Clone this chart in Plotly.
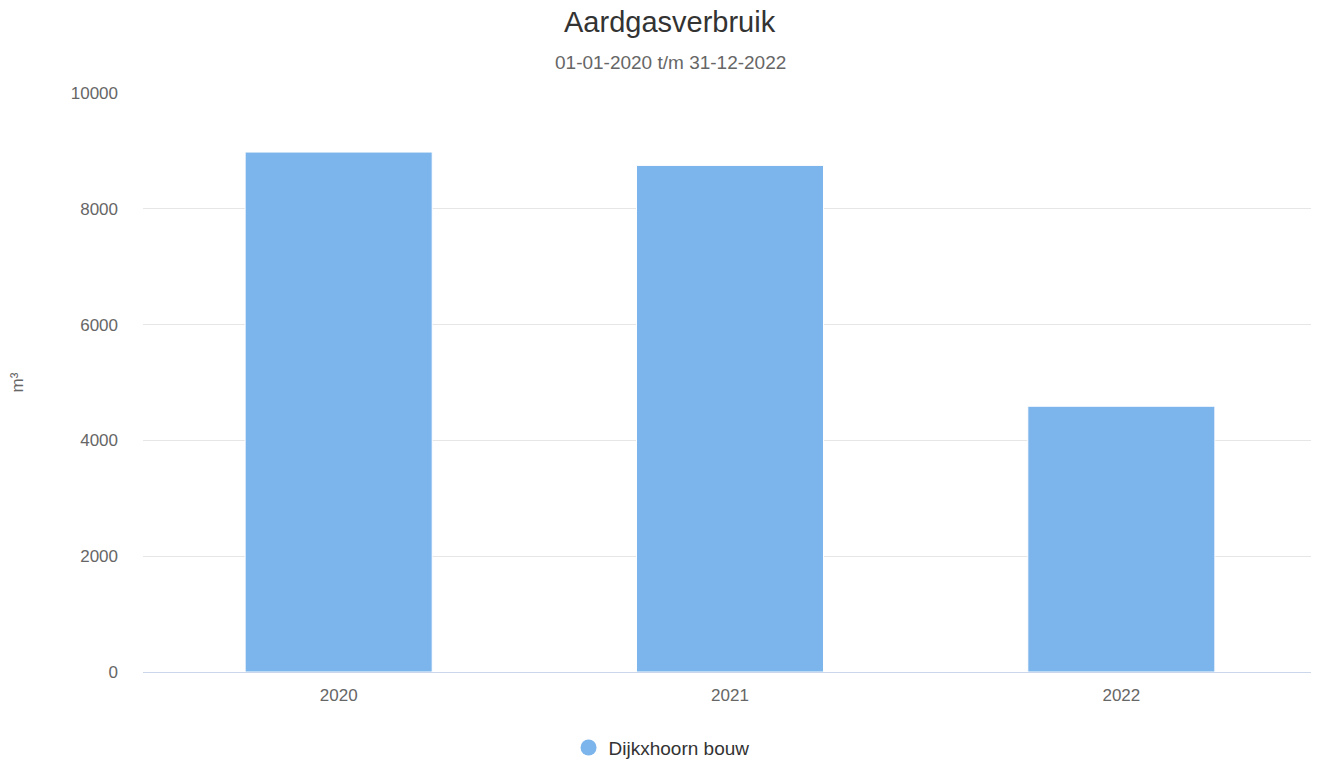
import plotly.graph_objects as go

categories = ["2020", "2021", "2022"]
values = [8980, 8750, 4590]
series_name = "Dijkxhoorn bouw"
y_ticks = [0, 2000, 4000, 6000, 8000, 10000]
title_text = "Aardgasverbruik"
subtitle_text = "01-01-2020 t/m 31-12-2022"
y_title = "m³"

BAR_COLOR = "#7cb5ec"
FONT = "Liberation Sans, Arial, Helvetica, sans-serif"

fig = go.Figure()
fig.add_trace(go.Bar(
    x=categories, y=values, name=series_name,
    marker=dict(color=BAR_COLOR, line=dict(color="#ffffff", width=1)),
    showlegend=False,
))
# legend entry with circle symbol
fig.add_trace(go.Scatter(
    x=[None], y=[None], mode="markers", name=series_name,
    marker=dict(color=BAR_COLOR, size=16, symbol="circle"),
    showlegend=True,
))

fig.update_layout(
    width=1311, height=753,
    margin=dict(l=135, r=2, t=85, b=89, autoexpand=False),
    paper_bgcolor="#ffffff", plot_bgcolor="#ffffff",
    font=dict(family=FONT, color="#666666", size=17),
    bargap=0.522,
    showlegend=True,
    legend=dict(
        orientation="h", x=0.4417, xanchor="center", y=-0.1307, yanchor="middle",
        font=dict(size=19, color="#333333", family=FONT),
        bgcolor="rgba(0,0,0,0)",
    ),
    xaxis=dict(
        type="category", showgrid=False, showline=True, linecolor="#ccd6eb", linewidth=1,
        ticks="", ticklabelstandoff=8, tickfont=dict(size=17, color="#666666"),
        fixedrange=True,
    ),
    yaxis=dict(
        range=[0, 10000], tickvals=y_ticks, ticktext=[str(v) for v in y_ticks],
        showgrid=True, gridcolor="#e6e6e6", gridwidth=1, zeroline=False,
        showline=False, ticks="", ticklabelstandoff=24,
        tickfont=dict(size=17, color="#666666"),
    ),
    annotations=[
        dict(text=title_text, xref="paper", yref="paper", x=(670 - 143) / 1174, y=(672.3 - 22) / 579,
             xanchor="center", yanchor="middle", showarrow=False,
             font=dict(size=29, color="#333333", family=FONT)),
        dict(text=subtitle_text, xref="paper", yref="paper", x=(670 - 143) / 1174, y=(672.3 - 63) / 579,
             xanchor="center", yanchor="middle", showarrow=False,
             font=dict(size=19, color="#666666", family=FONT)),
        dict(text=y_title, xref="paper", yref="paper", x=(17 - 143) / 1174, y=0.5,
             xanchor="center", yanchor="middle", showarrow=False, textangle=-90,
             font=dict(size=17, color="#666666", family=FONT)),
    ],
)

fig.write_html("out.html")
